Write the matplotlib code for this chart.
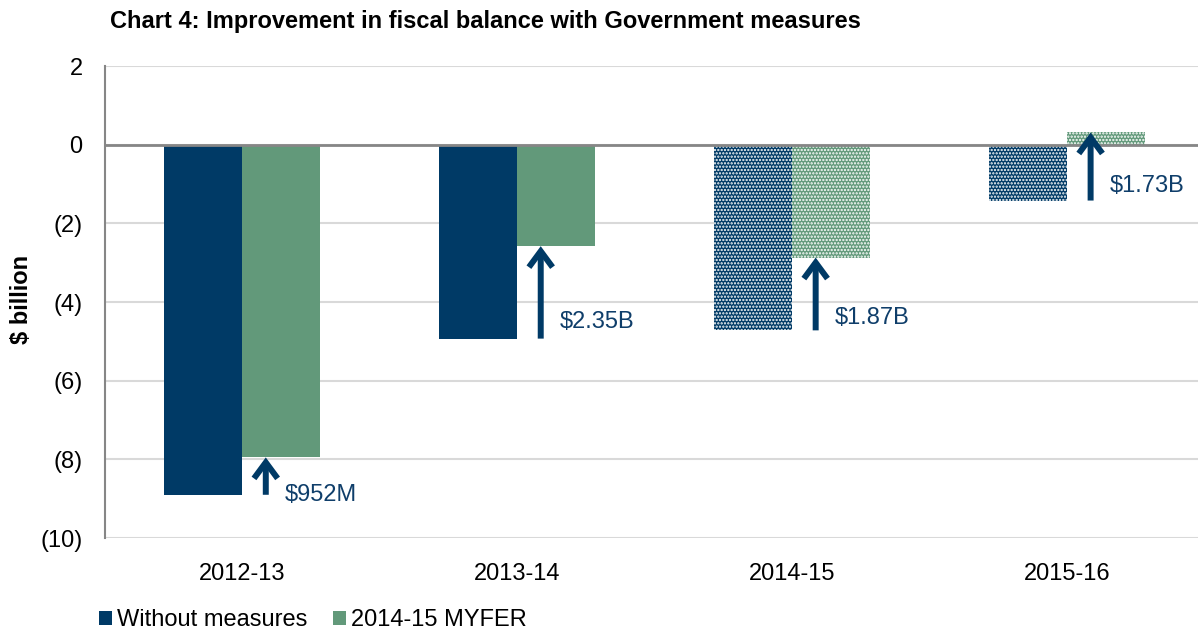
import matplotlib
matplotlib.use("Agg")
import matplotlib.pyplot as plt
import numpy as np
from matplotlib.patches import Patch

plt.rcParams['font.family'] = ['Liberation Sans', 'DejaVu Sans']
plt.rcParams['hatch.linewidth'] = 1.1

# Fiscal balance by year ($ billion)
years = ['2012-13', '2013-14', '2014-15', '2015-16']
without_measures = [-8.90, -4.93, -4.72, -1.42]
myfer = [-7.95, -2.58, -2.87, 0.31]
improvement_labels = ['$952M', '$2.35B', '$1.87B', '$1.73B']
projected = [False, False, True, True]   # forward years drawn with a dot fill

navy = '#003A66'
green = '#62997A'

fig = plt.figure(figsize=(11.98, 6.33), dpi=100)
ax = fig.add_axes([0.0876, 0.150, 0.918, 0.7457])

x = np.arange(len(years))
w = 0.284

for i in range(len(years)):
    hatch = '.....' if projected[i] else None
    ec = 'white' if projected[i] else navy
    ax.bar(x[i] - w / 2, without_measures[i], w, color=navy, edgecolor=ec,
           linewidth=0, hatch=hatch, zorder=3)
    ec = 'white' if projected[i] else green
    ax.bar(x[i] + w / 2, myfer[i], w, color=green, edgecolor=ec,
           linewidth=0, hatch=hatch, zorder=3)

# improvement arrows from the "without measures" result up to MYFER
text_offsets = [0.0, 0.42, 0.32, 0.38]
for i in range(len(years)):
    ax_x = x[i] + 0.085
    ax.annotate('', xy=(ax_x, myfer[i]), xytext=(ax_x, without_measures[i]),
                arrowprops=dict(arrowstyle='->,head_length=1.15,head_width=0.85',
                                color=navy, lw=4.3, shrinkA=0, shrinkB=0,
                                joinstyle='miter', capstyle='butt'),
                zorder=5)
    ax.text(ax_x + 0.07, without_measures[i] + text_offsets[i], improvement_labels[i],
            color='#0F3E6A', fontsize=17, va='center', ha='left', zorder=6)

ax.set_xlim(-0.5, 3.5)
ax.set_ylim(-10, 2)
ax.set_yticks(np.arange(-10, 3, 2))
ax.set_yticklabels(['(10)', '(8)', '(6)', '(4)', '(2)', '0', '2'])
ax.set_xticks(x)
ax.set_xticklabels(years)
ax.tick_params(axis='y', length=0, pad=16, labelsize=17)
ax.tick_params(axis='x', length=0, pad=18, labelsize=17)

ax.grid(axis='y', color='#D9D9D9', linewidth=1.5, zorder=0)
ax.axhline(0, color='#868686', linewidth=2, zorder=4)
for s in ['top', 'right', 'bottom']:
    ax.spines[s].set_visible(False)
ax.spines['left'].set_color('#868686')
ax.spines['left'].set_linewidth(1.5)

fig.text(0.018, 0.527, '$ billion', rotation=90, fontsize=17, weight='bold',
         ha='center', va='center')
fig.text(0.092, 0.966, 'Chart 4: Improvement in fiscal balance with Government measures',
         fontsize=17, weight='bold', ha='left', va='center')

handles = [Patch(facecolor=navy, label='Without measures'),
           Patch(facecolor=green, label='2014-15 MYFER')]
fig.legend(handles=handles, loc='center left', bbox_to_anchor=(0.083, 0.02),
           ncol=2, frameon=False, fontsize=17, handlelength=0.55, handleheight=0.55,
           handletextpad=0.2, columnspacing=1.1, borderpad=0, borderaxespad=0)

fig.savefig('out.png', dpi=100)
